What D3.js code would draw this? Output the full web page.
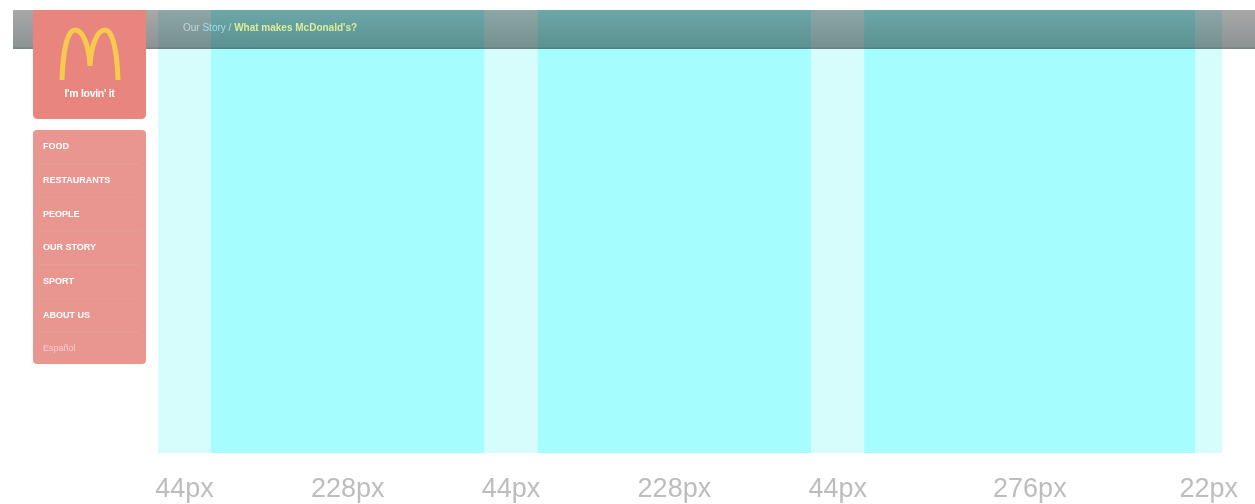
<!DOCTYPE html>
<html>
<head>
<meta charset="utf-8">
<script src="https://cdn.jsdelivr.net/npm/d3@7"></script>
<style>
    body { margin: 0; background: #fff; }
    svg { display: block; }
</style>
</head>
<body>
<div id="grid_chart"></div>
<script>
// grid columns, in design pixels
const colWidths = [44, 228, 44, 228, 44, 276, 22];
const colLabels = ["44px", "228px", "44px", "228px", "44px", "276px", "22px"];
const colKinds = ["gutter", "column", "gutter", "column", "gutter", "column", "gutter"];

// site mockup texts
const navItems = ["FOOD", "RESTAURANTS", "PEOPLE", "OUR STORY", "SPORT", "ABOUT US", "Español"];
const crumbParts = ["Our", "Story", "/", "What makes McDonald's?"];

(function grid_chart() {
    const height = 504,
        width = 1255,
        margin = ({ top: 10, right: 33, bottom: 51, left: 158 });

    const svg = d3.select("#grid_chart")
        .append("svg")
        .attr("width", width)
        .attr("height", height)
        .attr("viewBox", [0, 0, width, height]);

    const defs = svg.append("defs");

    let barGrad = defs.append("linearGradient")
        .attr("id", "barGrad")
        .attr("x1", 0).attr("y1", 0).attr("x2", 0).attr("y2", 1);
    barGrad.append("stop").attr("offset", "0%").attr("stop-color", "#a8a8a8");
    barGrad.append("stop").attr("offset", "100%").attr("stop-color", "#8c9292");

    defs.append("filter")
        .attr("id", "soft")
        .append("feGaussianBlur")
        .attr("stdDeviation", 0.7);

    let total = d3.sum(colWidths);
    let starts = [0, ...d3.cumsum(colWidths)];

    // design px -> screen px
    let x = d3.scaleLinear()
        .domain([0, total])
        .range([margin.left, width - margin.right]);

    let barBottom = 49;
    let gridBottom = height - margin.bottom;

    const site = svg.append("g").attr("filter", "url(#soft)");

    // top bar
    site.append("rect")
        .attr("x", 13)
        .attr("y", margin.top)
        .attr("width", width - 13)
        .attr("height", barBottom - margin.top)
        .attr("fill", "url(#barGrad)");

    site.append("rect")
        .attr("x", 13)
        .attr("y", barBottom - 1.5)
        .attr("width", width - 13)
        .attr("height", 1.5)
        .attr("fill", "#7c8484");

    // logo box
    let logoX = 33, logoW = 113;
    site.append("path")
        .attr("d", `M${logoX},${margin.top}h${logoW}v104q0,5 -5,5h-${logoW - 10}q-5,0 -5,-5z`)
        .attr("fill", "#e8857f");

    let m = d3.path();
    let mx = logoX + 29, my = 80;
    m.moveTo(mx, my);
    m.bezierCurveTo(mx + 1, 48, mx + 6, 30, mx + 13, 30);
    m.bezierCurveTo(mx + 21, 30, mx + 27, 46, mx + 28, 66);
    m.moveTo(mx + 28, 66);
    m.bezierCurveTo(mx + 29, 46, mx + 35, 30, mx + 43, 30);
    m.bezierCurveTo(mx + 50, 30, mx + 55, 48, mx + 56, my);

    site.append("path")
        .attr("d", m.toString())
        .attr("fill", "none")
        .attr("stroke", "#f7c94e")
        .attr("stroke-width", 5)
        .attr("stroke-linecap", "butt");

    site.append("text")
        .text("I'm lovin' it")
        .attr("x", logoX + logoW / 2)
        .attr("y", 97)
        .attr("text-anchor", "middle")
        .attr("font-family", "Liberation Sans Narrow, Liberation Sans, Arial, sans-serif")
        .attr("font-size", 10.5)
        .attr("font-weight", "bold")
        .attr("letter-spacing", -0.3)
        .attr("fill", "#fff");

    // nav box
    let navTop = 130, navBottom = 364;
    site.append("rect")
        .attr("x", logoX)
        .attr("y", navTop)
        .attr("width", logoW)
        .attr("height", navBottom - navTop)
        .attr("rx", 4)
        .attr("fill", "#ea9690");

    let ny = d3.scalePoint()
        .domain(navItems)
        .range([147, 349]);

    site.append("g")
        .selectAll("line")
        .data(navItems.slice(1))
        .join("line")
        .attr("x1", logoX + 6)
        .attr("x2", logoX + logoW - 6)
        .attr("y1", d => ny(d) - 17)
        .attr("y2", d => ny(d) - 17)
        .attr("stroke", "#e69d98")
        .attr("stroke-width", 1);

    site.append("g")
        .selectAll("text")
        .data(navItems)
        .join("text")
        .text(d => d)
        .attr("x", logoX + 10)
        .attr("y", d => ny(d))
        .attr("dominant-baseline", "middle")
        .attr("font-family", "Liberation Sans, Arial, sans-serif")
        .attr("font-size", 9)
        .attr("font-weight", (d, i) => i === navItems.length - 1 ? "normal" : "bold")
        .attr("fill", (d, i) => i === navItems.length - 1 ? "#f6cdca" : "#fff");

    // grid overlay
    svg.append("g")
        .style("mix-blend-mode", "multiply")
        .selectAll("rect")
        .data(colWidths)
        .join("rect")
        .attr("x", (d, i) => x(starts[i]))
        .attr("y", margin.top)
        .attr("width", (d, i) => x(starts[i] + d) - x(starts[i]))
        .attr("height", gridBottom - margin.top)
        .attr("fill", (d, i) => colKinds[i] === "gutter" ? "#d6fcfc" : "#a5fdfd");

    // breadcrumb
    let crumb = svg.append("text")
        .attr("x", 183)
        .attr("y", 31)
        .attr("font-family", "Liberation Sans, Arial, sans-serif")
        .attr("font-size", 10)
        .attr("font-weight", "bold")
        .attr("filter", "url(#soft)");

    let crumbColors = ["#c4d6d6", "#9fdcf2", "#c8d8d8", "#dcec98"];
    crumb.selectAll("tspan")
        .data(crumbParts)
        .join("tspan")
        .text((d, i) => (i > 0 ? " " : "") + d)
        .attr("font-weight", (d, i) => i === crumbParts.length - 1 ? "bold" : "normal")
        .attr("fill", (d, i) => crumbColors[i]);

    // width labels
    svg.append("g")
        .selectAll("text")
        .data(colLabels)
        .join("text")
        .text(d => d)
        .attr("x", (d, i) => x(starts[i] + colWidths[i] / 2))
        .attr("y", 497)
        .attr("text-anchor", "middle")
        .attr("font-family", "Liberation Sans, Arial, sans-serif")
        .attr("font-size", 27)
        .attr("fill", "#bdbdbd");
})();
</script>
</body>
</html>
